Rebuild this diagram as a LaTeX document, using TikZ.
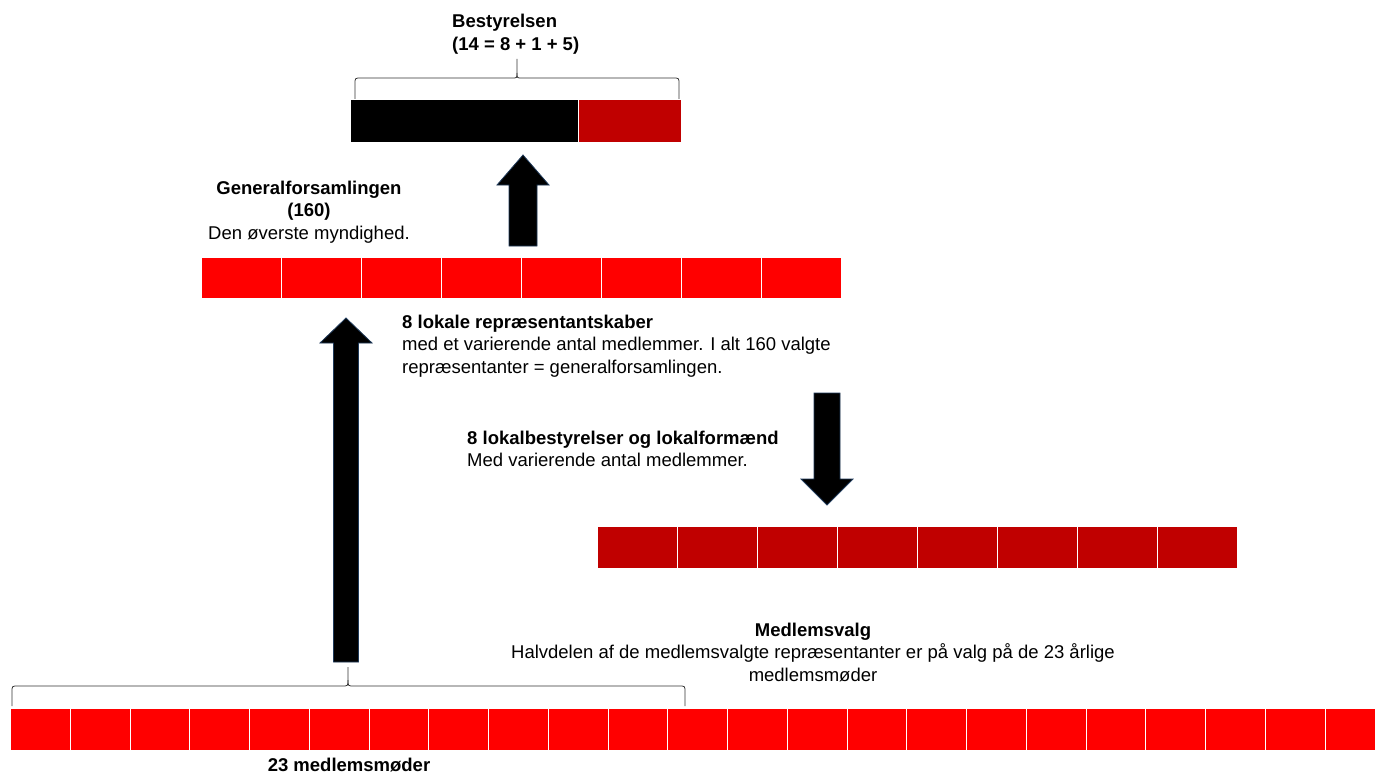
\documentclass[tikz,border=0pt]{standalone}
\usepackage{fontspec}
\setmainfont{Liberation Sans}
\definecolor{lysrod}{HTML}{FF0000}
\definecolor{morkrod}{HTML}{C00000}
\definecolor{pilkant}{HTML}{1F3A5A}

\begin{document}
\begin{tikzpicture}[x=1pt, y=-1pt,
    felt/.style={draw=white, line width=0.8pt, inner sep=0pt, anchor=north west},
    blokpil/.style={fill=black, draw=pilkant, line width=0.8pt},
    klamme/.style={line width=0.8pt, draw=black!80},
    tekst/.style={inner sep=0pt, font=\fontsize{18.5}{22.5}\selectfont}]
    \useasboundingbox (0,0) rectangle (1375,773);
    \clip (0,0) rectangle (1375,773);

    % 绘制Bestyrelsen
    \node[tekst, align=left, anchor=west] (bestyrelsen) at (452,34)
        {\textbf{Bestyrelsen}\\\textbf{(14 = 8 + 1 + 5)}};
    \draw[klamme] (355,99) -- (355,84) .. controls (355,78) .. (361,78) -- (512,78)
        .. controls (517,78) .. (517,73) -- (517,59);
    \draw[klamme] (679,99) -- (679,84) .. controls (679,78) .. (673,78) -- (522,78)
        .. controls (517,78) .. (517,73);
    \fill[black] (351,100) rectangle (578,142);
    \fill[morkrod] (578,100) rectangle (681,142);
    \draw[white, line width=0.8pt] (578,100) -- (578,142);

    % 绘制pil op til Bestyrelsen
    \filldraw[blokpil] (509,246) -- (509,185) -- (497,185) -- (523,155)
        -- (549,185) -- (537,185) -- (537,246) -- cycle;

    % 绘制Generalforsamlingen
    \node[tekst, align=center] (genforsamling) at (309,212)
        {\textbf{Generalforsamlingen}\\\textbf{(160)}\\Den øverste myndighed.};
    \foreach \i in {0,...,7}
        \node[felt, fill=lysrod, minimum width=80, minimum height=41] (gf\i) at (201+80*\i,257) {};

    % 绘制lang pil
    \filldraw[blokpil] (333.5,662) -- (333.5,343) -- (320,343) -- (346,318)
        -- (372,343) -- (358.5,343) -- (358.5,662) -- cycle;

    % 绘制repræsentantskaber
    \node[tekst, align=left, anchor=west] (repskaber) at (402,346)
        {\textbf{8 lokale repræsentantskaber}\\med et varierende antal medlemmer. I alt 160 valgte\\repræsentanter = generalforsamlingen.};

    % 绘制lokalbestyrelser og pil ned
    \node[tekst, align=left, anchor=west] (lokalbest) at (467,449)
        {\textbf{8 lokalbestyrelser og lokalformænd}\\Med varierende antal medlemmer.};
    \filldraw[blokpil] (814,393) -- (814,479) -- (801,479) -- (827,505)
        -- (853,479) -- (840,479) -- (840,393) -- cycle;
    \foreach \i in {0,...,7}
        \node[felt, fill=morkrod, minimum width=80, minimum height=42] (lb\i) at (597+80*\i,526) {};

    % 绘制Medlemsvalg
    \node[tekst, align=center] (medlemsvalg) at (813,652)
        {\textbf{Medlemsvalg}\\Halvdelen af de medlemsvalgte repræsentanter er på valg på de 23 årlige\\medlemsmøder};

    % 绘制medlemsmøder
    \draw[klamme] (12,706) -- (12,692) .. controls (12,686) .. (18,686) -- (342,686)
        .. controls (348,686) .. (348,680) -- (348,667);
    \draw[klamme] (685,706) -- (685,692) .. controls (685,686) .. (679,686) -- (354,686)
        .. controls (348,686) .. (348,680);
    \foreach \i in {0,...,22}
        \node[felt, fill=lysrod, minimum width=59.75, minimum height=42] (mm\i) at (10+59.75*\i,708) {};
    \node[tekst] (moeder) at (349,765) {\textbf{23 medlemsmøder}};
\end{tikzpicture}
\end{document}
